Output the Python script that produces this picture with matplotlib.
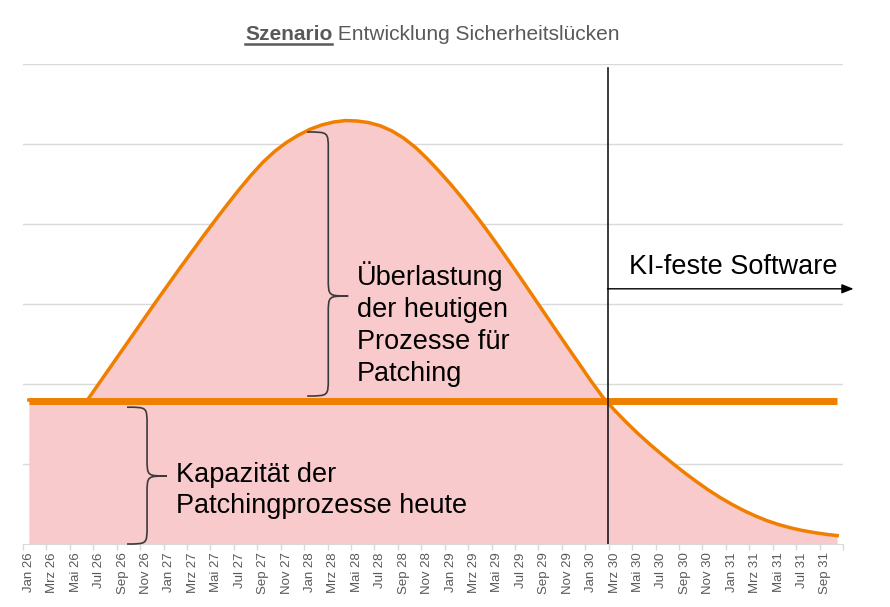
import matplotlib
matplotlib.use("Agg")
import matplotlib.pyplot as plt
from matplotlib.path import Path
from matplotlib.patches import PathPatch
from matplotlib.lines import Line2D
import numpy as np

plt.rcParams['font.family'] = ['Liberation Sans', 'DejaVu Sans']

# ---- data ----
months = ["Jan", "Feb", "Mrz", "Apr", "Mai", "Jun", "Jul", "Aug", "Sep", "Okt", "Nov", "Dez"]
years = ["26", "27", "28", "29", "30", "31"]
categories = [f"{m} {y}" for y in years for m in months][:70]  # Jan 26 .. Okt 31

luecken = [1.800, 1.800, 1.800, 1.800, 1.800, 1.800, 2.010, 2.220, 2.430, 2.640,
           2.850, 3.060, 3.265, 3.470, 3.670, 3.870, 4.065, 4.255, 4.440, 4.615,
           4.775, 4.910, 5.020, 5.110, 5.184, 5.238, 5.274, 5.293, 5.288, 5.268,
           5.228, 5.163, 5.073, 4.958, 4.818, 4.663, 4.498, 4.323, 4.138, 3.943,
           3.740, 3.532, 3.320, 3.105, 2.889, 2.673, 2.459, 2.248, 2.035, 1.835,
           1.672, 1.522, 1.380, 1.248, 1.123, 1.003, 0.888, 0.779, 0.676, 0.582,
           0.497, 0.420, 0.352, 0.292, 0.243, 0.203, 0.170, 0.144, 0.122, 0.105]
kapazitaet = [1.79] * 70

grid_levels = [1, 2, 3, 4, 5, 6]

ORANGE = "#F07F00"
PINK = "#F8CACC"
GRAY = "#595959"
GRID = "#D9D9D9"

fig = plt.figure(figsize=(8.9, 6.07), dpi=100)
ax = fig.add_axes([23/890, 1-544/607, 820/890, 480/607])

x = np.arange(len(categories))
ax.fill_between(x, 0, luecken, color=PINK, lw=0, zorder=1)
ax.plot(x, luecken, color=ORANGE, lw=2.5, solid_joinstyle='round', zorder=3)
ax.plot(x, kapazitaet, color=ORANGE, lw=5, solid_capstyle='butt', zorder=4)

ax.set_xlim(-0.5, len(categories) - 0.5)
ax.set_ylim(0, 6)
for g in grid_levels:
    ax.axhline(g, color=GRID, lw=1, zorder=0)

for s in ['top', 'right', 'left']:
    ax.spines[s].set_visible(False)
ax.spines['bottom'].set_color(GRID)
ax.set_yticks([])
ax.set_xticks(x[::2])
ax.set_xticklabels(categories[::2], rotation=90, fontsize=9.5, color=GRAY)
ax.tick_params(axis='x', which='major', length=0, pad=6)
ax.set_xticks(np.arange(-0.5, len(categories), 2), minor=True)
ax.tick_params(axis='x', which='minor', length=4, color=GRID, width=1)

# vertical divider and arrow
ax.plot([49.4, 49.4], [0, 5.95], color="#1a1a1a", lw=1.2, zorder=5)
ax.annotate("", xy=(70.4, 3.19), xytext=(49.4, 3.19), xycoords='data',
            arrowprops=dict(arrowstyle='-|>,head_length=0.7,head_width=0.28',
                            color='black', lw=1.0, shrinkA=0, shrinkB=0),
            annotation_clip=False, zorder=6)
ax.text(51.2, 3.46, "KI-feste Software", fontsize=19.5, va='center', ha='left', color='black')

ax.text(28.0, 3.53, "Überlastung\nder heutigen\nProzesse für\nPatching", fontsize=19.5,
        va='top', ha='left', color='black', linespacing=1.29)
ax.text(12.56, 1.03, "Kapazität der\nPatchingprozesse heute", fontsize=19.5,
        va='top', ha='left', color='black', linespacing=1.27)

def brace(ax, x_end, x_mid, x_tip, y_top, y_tip, y_bot, r=0.22, t=1.2):
    verts = [(x_end, y_top), (x_mid, y_top), (x_mid, y_top), (x_mid, y_top - r),
             (x_mid, y_tip + r),
             (x_mid, y_tip), (x_mid, y_tip), (x_tip, y_tip),
             (x_tip, y_tip),
             (x_mid, y_tip), (x_mid, y_tip), (x_mid, y_tip - r),
             (x_mid, y_bot + r),
             (x_mid, y_bot), (x_mid, y_bot), (x_end, y_bot)]
    codes = [Path.MOVETO, Path.CURVE4, Path.CURVE4, Path.CURVE4,
             Path.LINETO,
             Path.CURVE4, Path.CURVE4, Path.CURVE4,
             Path.MOVETO,
             Path.CURVE4, Path.CURVE4, Path.CURVE4,
             Path.LINETO,
             Path.CURVE4, Path.CURVE4, Path.CURVE4]
    ax.add_patch(PathPatch(Path(verts, codes), fc='none', ec='#3a3a3a', lw=t,
                           zorder=6, clip_on=False))

brace(ax, 23.76, 25.56, 27.26, 5.15, 3.10, 1.85)
brace(ax, 8.38, 10.09, 11.79, 1.71, 0.85, 0.0)

# title with underlined bold word
fig.canvas.draw()
r = fig.canvas.get_renderer()
t1 = fig.text(245/890, 1-35/607, "Szenario", fontsize=15, fontweight='bold', color=GRAY,
              va='center', ha='left')
bb1 = t1.get_window_extent(renderer=r)
t2 = fig.text(bb1.x1/890, 1-35/607, " Entwicklung Sicherheitslücken", fontsize=15, color=GRAY,
              va='center', ha='left')
uy = bb1.y0 + 1
fig.add_artist(Line2D([bb1.x0/890, bb1.x1/890], [uy/607, uy/607], color=GRAY, lw=1.8,
                      transform=fig.transFigure))

fig.savefig("out.png", dpi=100)
